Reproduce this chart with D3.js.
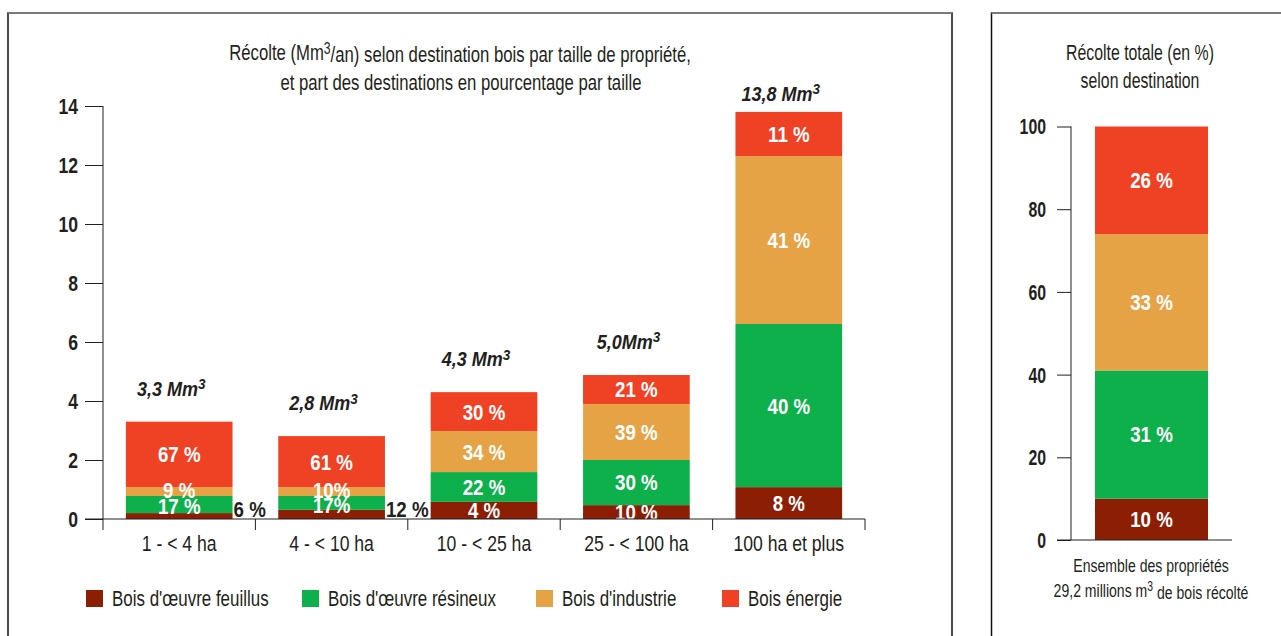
<!DOCTYPE html>
<html><head><meta charset="utf-8">
<script src="https://cdn.jsdelivr.net/npm/d3@7"></script>
<style>
html,body{margin:0;padding:0;background:#fff;}
svg text{font-family:"Liberation Sans",Arial,sans-serif;fill:#231f20;}
</style></head>
<body>
<svg id="c" width="1281" height="636"></svg>
<script>
// ---- data ----
const categories = ["1 - < 4 ha", "4 - < 10 ha", "10 - < 25 ha", "25 - < 100 ha", "100 ha et plus"];
const seriesNames = ["Bois d'œuvre feuillus", "Bois d'œuvre résineux", "Bois d'industrie", "Bois énergie"];
// harvested volume per destination (Mm3/an)
const feuillus  = [0.20, 0.31, 0.58, 0.47, 1.08];
const resineux  = [0.58, 0.47, 1.01, 1.53, 5.53];
const industrie = [0.30, 0.30, 1.39, 1.90, 5.69];
const energie   = [2.22, 1.73, 1.32, 0.98, 1.50];
// percentage labels printed in the bars
const pctFeuillus  = ["6 %", "12 %", "4 %", "10 %", "8 %"];
const pctResineux  = ["17 %", "17%", "22 %", "30 %", "40 %"];
const pctIndustrie = ["9 %", "10%", "34 %", "39 %", "41 %"];
const pctEnergie   = ["67 %", "61 %", "30 %", "21 %", "11 %"];
const totalLabels = ["3,3", "2,8", "4,3", "5,0", "13,8"];
const yTicks = [0, 2, 4, 6, 8, 10, 12, 14];
// right panel : total harvest share (%)
const totalShare = [10, 31, 33, 26];
const totalShareLabels = ["10 %", "31 %", "33 %", "26 %"];
const yTicksPct = [0, 20, 40, 60, 80, 100];
const colors = ["#8b1e03", "#0db04b", "#e6a345", "#ef4123"];

const svg = d3.select("#c");
const dark = "#231f20";
const SX = 0.76, SXB = 0.85;

// scaled (condensed) text helper
function T(parent, x, y, size, opts) {
  opts = opts || {};
  const sx = opts.sx || SX;
  const t = parent.append("text")
    .attr("transform", `translate(${x},${y}) scale(${sx},1)`)
    .attr("dy", "0.36em")
    .attr("text-anchor", opts.anchor || "middle")
    .style("font-size", size + "px");
  if (opts.bold) t.style("font-weight", "bold");
  if (opts.italic) t.style("font-style", "italic");
  if (opts.fill) t.style("fill", opts.fill);
  if (opts.text !== undefined) t.text(opts.text);
  return t;
}

// frames
svg.append("path").attr("d","M8,636 V13 H952 V636").attr("fill","none").attr("stroke","#111").attr("stroke-width",1.5);
svg.append("line").attr("x1",8).attr("x2",952).attr("y1",13).attr("y2",13).attr("stroke","#888").attr("stroke-width",1.5);
svg.append("path").attr("d","M991.5,636 V13 H1281").attr("fill","none").attr("stroke","#111").attr("stroke-width",1.5);
svg.append("line").attr("x1",991.5).attr("x2",1281).attr("y1",13).attr("y2",13).attr("stroke","#888").attr("stroke-width",1.5);

// ---- left chart ----
const x = d3.scaleBand().domain(categories).range([103, 865]).padding(0);
const y = d3.scaleLinear().domain([0, 14]).range([519, 106]);
const series = [feuillus, resineux, industrie, energie];
const pcts = [pctFeuillus, pctResineux, pctIndustrie, pctEnergie];
const rows = categories.map((c, i) => {
  const r = {cat: c};
  seriesNames.forEach((s, k) => r[s] = series[k][i]);
  return r;
});
const stacked = d3.stack().keys(seriesNames)(rows);
const bw = x.bandwidth() * 0.70;
const bx = c => x(c) + (x.bandwidth() - bw) / 2;

const g = svg.append("g");
stacked.forEach((layer, k) => {
  g.selectAll(null).data(layer).enter().append("rect")
    .attr("x", d => bx(d.data.cat)).attr("width", bw)
    .attr("y", d => y(d[1])).attr("height", d => y(d[0]) - y(d[1]))
    .attr("fill", colors[k]);
});
// percentage labels
stacked.forEach((layer, k) => {
  layer.forEach((d, i) => {
    const outside = (k === 0 && i < 2);
    const cx = outside ? bx(d.data.cat) + bw + 1 : bx(d.data.cat) + bw / 2;
    let cy = outside ? 509 : (y(d[0]) + y(d[1])) / 2;
    if (i < 2 && k === 1) cy += 2;   // thin segments: labels overflow slightly
    if (i < 2 && k === 2) cy -= 1;
    T(g, cx, cy, 22, {bold: true, sx: SXB, anchor: outside ? "start" : "middle",
      fill: outside ? dark : "#fff", text: pcts[k][i]});
  });
});
// labels are cut at the axis
svg.append("rect").attr("x", 100).attr("y", 520).attr("width", 770).attr("height", 10).attr("fill", "#fff");

// total labels
const totals = rows.map(r => seriesNames.reduce((a, s) => a + r[s], 0));
categories.forEach((c, i) => {
  const ty = Math.max(y(totals[i]) - 33, 94);
  const t = T(g, bx(c) + bw / 2 - 8, ty, 20, {bold: true, italic: true, sx: 0.9});
  t.append("tspan").text(totalLabels[i] + (i === 3 ? "" : " ") + "Mm");
  t.append("tspan").attr("dy", "-0.45em").style("font-size", "15px").text("3");
});

// y axis
const yAxis = d3.axisLeft(y).tickValues(yTicks).tickSize(18).tickPadding(7).tickFormat(d3.format("d"));
const ya = svg.append("g").attr("transform", "translate(103,0)").call(yAxis);
ya.select(".domain").attr("d", "M0,106V530").attr("stroke", dark);
ya.selectAll("line").attr("stroke", dark);
ya.selectAll(".tick text").each(function() {
  const s = d3.select(this); const xv = +s.attr("x");
  s.attr("x", 0).attr("transform", `translate(${xv},0) scale(0.8,1)`).attr("dy", "0.34em");
}).style("font-size", "22px").style("font-weight", "bold").style("fill", dark).style("font-family", null);

// x axis
const xa = svg.append("g").attr("transform", "translate(0,519)");
xa.append("line").attr("x1", 85).attr("x2", 865).attr("stroke", dark);
const bounds = categories.map(c => x(c)).concat([x(categories[categories.length - 1]) + x.bandwidth()]);
xa.selectAll(null).data(bounds.slice(1)).enter().append("line")
  .attr("x1", d => d).attr("x2", d => d).attr("y1", 0).attr("y2", 11).attr("stroke", dark);
categories.forEach(c => T(xa, x(c) + x.bandwidth() / 2, 24, 22, {sx: 0.8, text: c}));

// title
const title = T(svg, 460, 52, 22);
title.append("tspan").text("Récolte (Mm");
title.append("tspan").attr("dy", "-0.4em").style("font-size", "16px").text("3");
title.append("tspan").attr("dy", "0.4em").text("/an) selon destination bois par taille de propriété,");
T(svg, 461, 82, 22, {text: "et part des destinations en pourcentage par taille"});

// legend
const legX = [86, 302, 536, 722];
seriesNames.forEach((s, k) => {
  svg.append("rect").attr("x", legX[k]).attr("y", 590).attr("width", 17).attr("height", 17).attr("fill", colors[k]);
  T(svg, legX[k] + 26, 598, 22, {anchor: "start", sx: 0.77, text: s});
});

// ---- right chart ----
const y2 = d3.scaleLinear().domain([0, 100]).range([540, 126.5]);
const shareStack = d3.stack().keys(seriesNames)([Object.fromEntries(seriesNames.map((s, k) => [s, totalShare[k]]))]);
const rx = 1095, rw = 113;
shareStack.forEach((layer, k) => {
  const d = layer[0];
  svg.append("rect").attr("x", rx).attr("width", rw).attr("y", y2(d[1])).attr("height", y2(d[0]) - y2(d[1])).attr("fill", colors[k]);
  T(svg, rx + rw / 2, (y2(d[0]) + y2(d[1])) / 2, 22, {bold: true, sx: SXB, fill: "#fff", text: totalShareLabels[k]});
});
const yAxis2 = d3.axisLeft(y2).tickValues(yTicksPct).tickSize(14).tickPadding(11).tickFormat(d3.format("d"));
const ya2 = svg.append("g").attr("transform", "translate(1071,0)").call(yAxis2);
ya2.select(".domain").attr("d", "M0,126.5V540").attr("stroke", dark);
ya2.selectAll("line").attr("stroke", dark);
ya2.selectAll(".tick text").each(function() {
  const s = d3.select(this); const xv = +s.attr("x");
  s.attr("x", 0).attr("transform", `translate(${xv},0) scale(0.72,1)`).attr("dy", "0.34em");
}).style("font-size", "22px").style("font-weight", "bold").style("fill", dark);
svg.append("line").attr("x1", 1057).attr("x2", 1232).attr("y1", 540).attr("y2", 540).attr("stroke", dark);

T(svg, 1140, 52, 22, {sx: 0.72, text: "Récolte totale (en %)"});
T(svg, 1140, 80, 22, {sx: 0.72, text: "selon destination"});
T(svg, 1151, 565, 19, {sx: 0.74, text: "Ensemble des propriétés"});
const sub = T(svg, 1151, 590, 19, {sx: 0.74});
sub.append("tspan").text("29,2 millions m");
sub.append("tspan").attr("dy", "-0.4em").style("font-size", "14px").text("3");
sub.append("tspan").attr("dy", "0.4em").text(" de bois récolté");
</script>
</body></html>
